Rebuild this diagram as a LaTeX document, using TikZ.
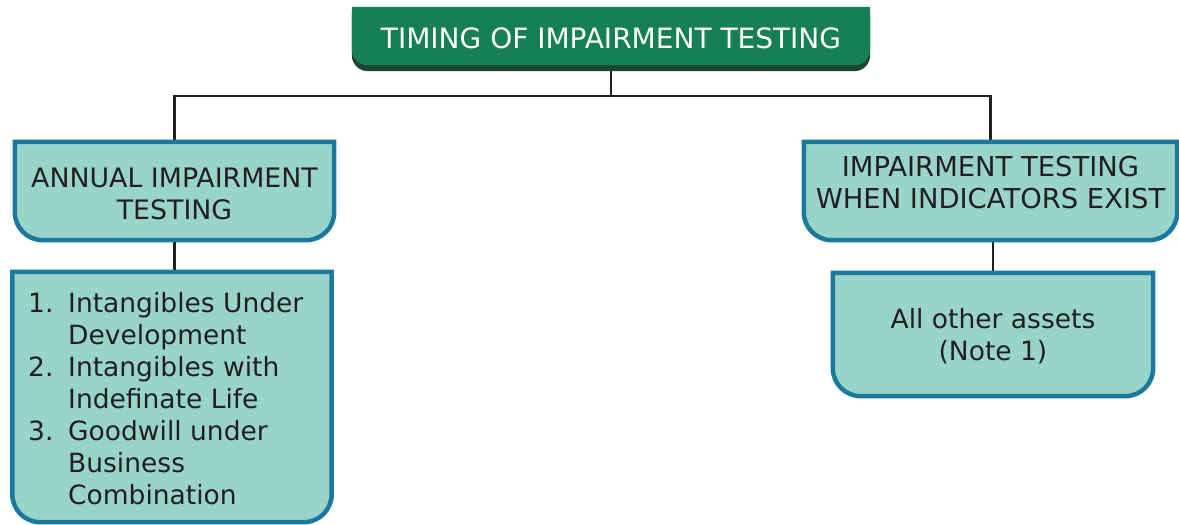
\documentclass[tikz,border=0pt]{standalone}
\usepackage{fontspec}
\setmainfont{DejaVu Sans}
\usetikzlibrary{calc}
\pgfdeclarelayer{bg}
\pgfsetlayers{bg,main}
\definecolor{tgreen}{HTML}{167F56}
\definecolor{tshadow}{HTML}{1F4530}
\definecolor{tfill}{HTML}{99D4CA}
\definecolor{tedge}{HTML}{1B7A9C}
\definecolor{tink}{HTML}{231F20}
\newcommand\botround[3]{%
 \path[#3] (#1.north west) -- ([yshift=#2]#1.south west)
   arc[start angle=180,end angle=270,radius=#2]
   -- ([xshift=-#2]#1.south east)
   arc[start angle=270,end angle=360,radius=#2]
   -- (#1.north east) -- cycle;}
\tikzset{
  boxfont/.style={font=\fontsize{26.5}{32}\selectfont, text=tink},
  frame/.style={inner sep=0pt, align=center},
  teal/.style={fill=tfill, draw=tedge, line width=4.5pt},
  conn/.style={draw=tink, line width=2.5pt},
}
\begin{document}
\begin{tikzpicture}[x=1pt,y=1pt]
\useasboundingbox (0,0) rectangle (1179,-525);
% boxes
\node[frame, minimum width=518pt, minimum height=58pt] (titlesh) at (611,-42) {};
\node[frame, minimum width=518pt, minimum height=58pt] (title) at (611,-36) {};
\node[frame, font=\fontsize{28}{32}\selectfont, text=white] (titlet) at ([yshift=-2.5pt]title.center) {TIMING OF IMPAIRMENT TESTING};
\node[frame, minimum width=319pt, minimum height=98pt] (a1) at (174.5,-191) {};
\node[frame, boxfont, font=\fontsize{26.8}{32}\selectfont] (a1t) at ([yshift=-3pt]a1.center) {ANNUAL IMPAIRMENT\\TESTING};
\node[frame, minimum width=319pt, minimum height=250pt] (a2) at (172,-397) {};
\node[frame, minimum width=373pt, minimum height=98pt] (b1) at (990.5,-191) {};
\node[frame, boxfont, font=\fontsize{27.4}{32}\selectfont] (b1t) at ([yshift=8pt]b1.center) {IMPAIRMENT TESTING\\WHEN INDICATORS EXIST};
\node[frame, minimum width=320pt, minimum height=123pt] (b2) at (993,-334.5) {};
\node[frame, boxfont] (b2t) at ([yshift=-2pt]b2.center) {All other assets\\(Note 1)};
\node[boxfont, inner sep=0pt, align=left, anchor=north west] (a2t) at (28,-292.5)
 {\makebox[40pt][l]{1.}Intangibles Under\\
  \hspace*{40pt}Development\\
  \makebox[40pt][l]{2.}Intangibles with\\
  \hspace*{40pt}Indefinate Life\\
  \makebox[40pt][l]{3.}Goodwill under\\
  \hspace*{40pt}Business\\
  \hspace*{40pt}Combination};
\begin{pgfonlayer}{bg}
 \fill[white] (0,0) rectangle (1179,-525);
 \draw[conn] (title.south) -- ++(0,-31) coordinate (hub);
 \draw[conn] (a1.north) |- (hub) -| (b1.north);
 \draw[conn] (a1.south) -- (a1.south |- a2.north);
 \draw[conn] (b2.north) -- (b2.north |- b1.south);
 \botround{titlesh}{16pt}{fill=tshadow}
 \botround{title}{16pt}{fill=tgreen}
 \botround{a1}{28pt}{teal}
 \botround{a2}{28pt}{teal}
 \botround{b1}{28pt}{teal}
 \botround{b2}{28pt}{teal}
\end{pgfonlayer}
\end{tikzpicture}
\end{document}
